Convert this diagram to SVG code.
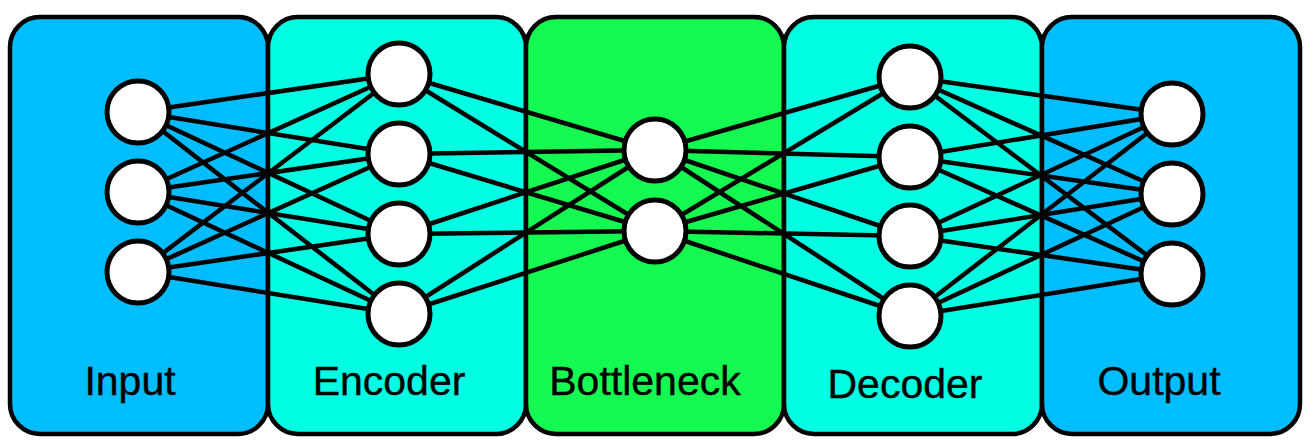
<svg xmlns="http://www.w3.org/2000/svg" width="1314" height="448" viewBox="0 0 1314 448">
<style>
.box{stroke:#000;stroke-width:4.5}
.in{fill:#00BDFF}
.enc{fill:#00FFE2}
.bot{fill:#14FA50}
.lbl{font-family:"Liberation Sans",Arial,sans-serif;font-size:41px;fill:#000;text-anchor:middle;stroke:#000;stroke-width:0.4}
.n{fill:#fff;stroke:#000;stroke-width:5}
#connectors line{stroke:#000;stroke-width:4.5;stroke-linecap:round}
</style>
<rect width="1314" height="448" fill="#fff"/>
<g id="layer-input"><rect class="box in" x="10" y="17" width="258" height="417" rx="30"/><text class="lbl" x="130" y="395">Input</text></g>
<g id="layer-encoder"><rect class="box enc" x="268" y="17" width="258" height="417" rx="30"/><text class="lbl" x="389" y="395">Encoder</text></g>
<g id="layer-bottleneck"><rect class="box bot" x="526" y="17" width="258" height="417" rx="30"/><text class="lbl" x="645" y="395">Bottleneck</text></g>
<g id="layer-decoder"><rect class="box enc" x="784" y="17" width="258" height="417" rx="30"/><text class="lbl" x="905" y="398">Decoder</text></g>
<g id="layer-output"><rect class="box in" x="1042" y="17" width="258" height="417" rx="30"/><text class="lbl" x="1159" y="395">Output</text></g>
<g id="connectors">
<line x1="138" y1="112" x2="399" y2="74"/><line x1="138" y1="112" x2="399" y2="154"/><line x1="138" y1="112" x2="399" y2="234"/><line x1="138" y1="112" x2="399" y2="314"/>
<line x1="138" y1="192" x2="399" y2="74"/><line x1="138" y1="192" x2="399" y2="154"/><line x1="138" y1="192" x2="399" y2="234"/><line x1="138" y1="192" x2="399" y2="314"/>
<line x1="138" y1="272" x2="399" y2="74"/><line x1="138" y1="272" x2="399" y2="154"/><line x1="138" y1="272" x2="399" y2="234"/><line x1="138" y1="272" x2="399" y2="314"/>
<line x1="399" y1="74" x2="655" y2="150"/><line x1="399" y1="74" x2="655" y2="231"/>
<line x1="399" y1="154" x2="655" y2="150"/><line x1="399" y1="154" x2="655" y2="231"/>
<line x1="399" y1="234" x2="655" y2="150"/><line x1="399" y1="234" x2="655" y2="231"/>
<line x1="399" y1="314" x2="655" y2="150"/><line x1="399" y1="314" x2="655" y2="231"/>
<line x1="655" y1="150" x2="910" y2="77"/><line x1="655" y1="150" x2="910" y2="157"/><line x1="655" y1="150" x2="910" y2="236"/><line x1="655" y1="150" x2="910" y2="316"/>
<line x1="655" y1="231" x2="910" y2="77"/><line x1="655" y1="231" x2="910" y2="157"/><line x1="655" y1="231" x2="910" y2="236"/><line x1="655" y1="231" x2="910" y2="316"/>
<line x1="910" y1="77" x2="1172" y2="114"/><line x1="910" y1="77" x2="1172" y2="194"/><line x1="910" y1="77" x2="1172" y2="274"/>
<line x1="910" y1="157" x2="1172" y2="114"/><line x1="910" y1="157" x2="1172" y2="194"/><line x1="910" y1="157" x2="1172" y2="274"/>
<line x1="910" y1="236" x2="1172" y2="114"/><line x1="910" y1="236" x2="1172" y2="194"/><line x1="910" y1="236" x2="1172" y2="274"/>
<line x1="910" y1="316" x2="1172" y2="114"/><line x1="910" y1="316" x2="1172" y2="194"/><line x1="910" y1="316" x2="1172" y2="274"/>
</g>
<g id="in1"><circle class="n" cx="138" cy="112" r="31"/></g>
<g id="in2"><circle class="n" cx="138" cy="192" r="31"/></g>
<g id="in3"><circle class="n" cx="138" cy="272" r="31"/></g>
<g id="enc1"><circle class="n" cx="399" cy="74" r="31"/></g>
<g id="enc2"><circle class="n" cx="399" cy="154" r="31"/></g>
<g id="enc3"><circle class="n" cx="399" cy="234" r="31"/></g>
<g id="enc4"><circle class="n" cx="399" cy="314" r="31"/></g>
<g id="bot1"><circle class="n" cx="655" cy="150" r="31"/></g>
<g id="bot2"><circle class="n" cx="655" cy="231" r="31"/></g>
<g id="dec1"><circle class="n" cx="910" cy="77" r="31"/></g>
<g id="dec2"><circle class="n" cx="910" cy="157" r="31"/></g>
<g id="dec3"><circle class="n" cx="910" cy="236" r="31"/></g>
<g id="dec4"><circle class="n" cx="910" cy="316" r="31"/></g>
<g id="out1"><circle class="n" cx="1172" cy="114" r="31"/></g>
<g id="out2"><circle class="n" cx="1172" cy="194" r="31"/></g>
<g id="out3"><circle class="n" cx="1172" cy="274" r="31"/></g>
</svg>
